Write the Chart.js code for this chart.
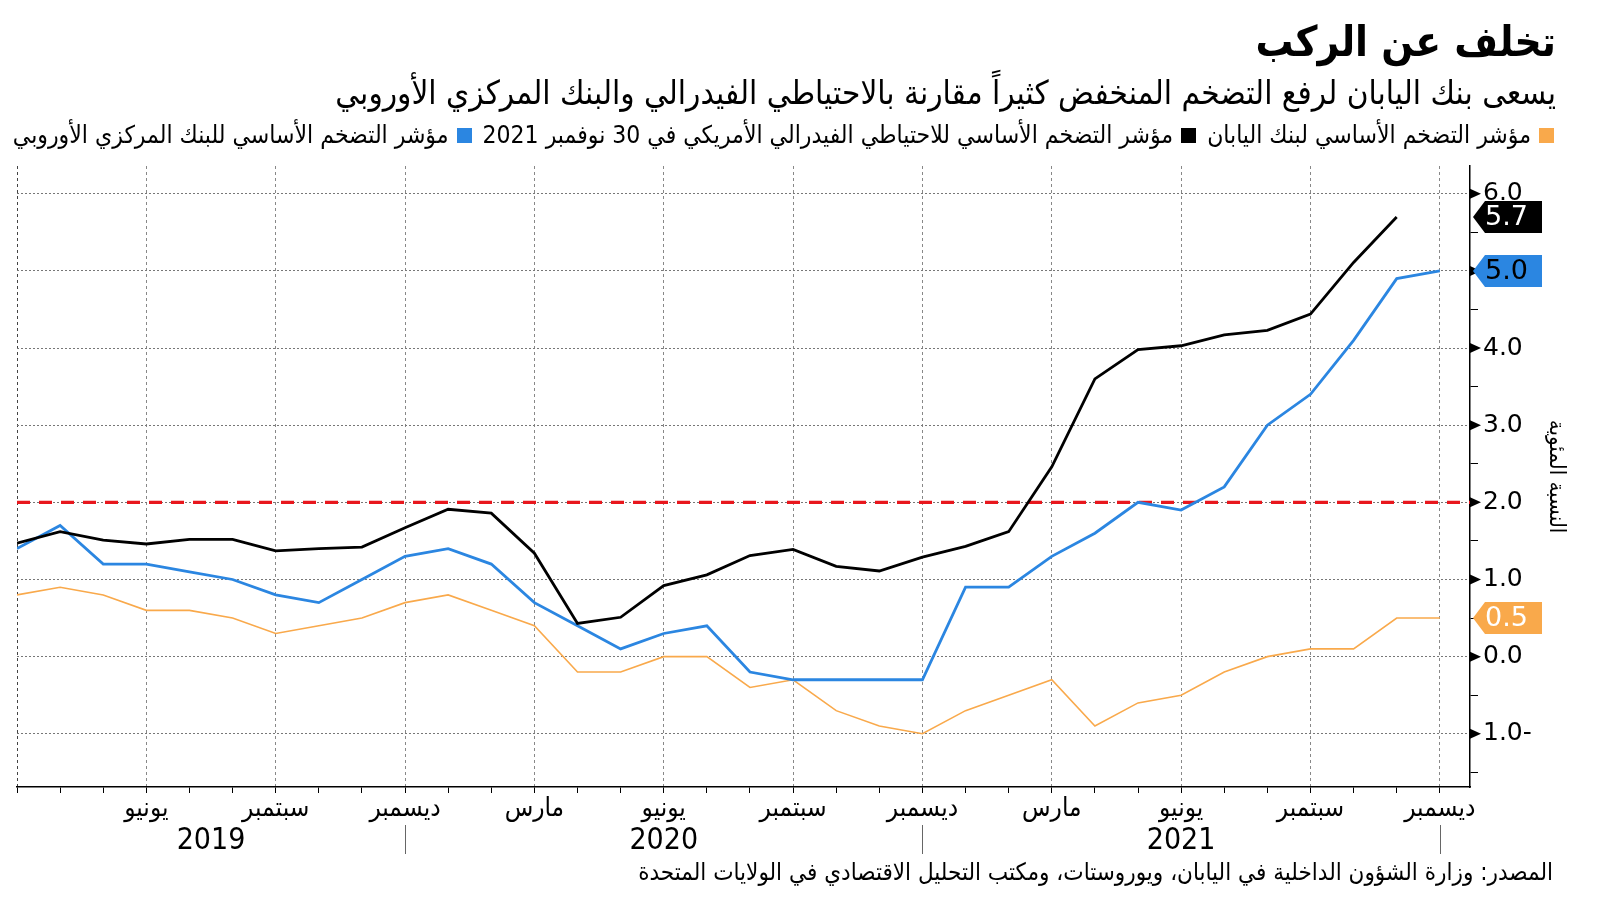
<!DOCTYPE html>
<html lang="ar">
<head>
<meta charset="utf-8">
<script src="https://cdn.jsdelivr.net/npm/chart.js@4.4.1/dist/chart.umd.min.js"></script>
<style>
  html, body { margin:0; padding:0; background:#fff; }
  body { width:1600px; height:901px; position:relative; overflow:hidden; font-family:"DejaVu Sans Condensed","DejaVu Sans",sans-serif; color:#000; }
  #c { position:absolute; left:0; top:0; }
  .txt { position:absolute; direction:rtl; white-space:nowrap; line-height:1; }
  #title { right:44px; top:21px; font-size:42px; font-weight:bold; }
  #subtitle { right:44px; top:76px; font-size:33px; }
  #legend { right:46px; top:123px; font-size:24.5px; display:flex; align-items:center; }
  #legend .sw { display:inline-block; width:15px; height:15px; margin-left:8px; }
  #legend .it { display:flex; align-items:center; margin-left:11px; }
  #source { right:47px; top:860px; font-size:24px; }
</style>
</head>
<body>
<canvas id="c" width="1600" height="901"></canvas>
<div id="title" class="txt">تخلف عن الركب</div>
<div id="subtitle" class="txt">يسعى بنك اليابان لرفع التضخم المنخفض كثيراً مقارنة بالاحتياطي الفيدرالي والبنك المركزي الأوروبي</div>
<div id="legend" class="txt"></div>
<div id="source" class="txt">المصدر: وزارة الشؤون الداخلية في اليابان، ويوروستات، ومكتب التحليل الاقتصادي في الولايات المتحدة</div>
<script>
// ---------------- DATA ----------------
const categories = ['2019-03','2019-04','2019-05','2019-06','2019-07','2019-08','2019-09','2019-10','2019-11','2019-12',
  '2020-01','2020-02','2020-03','2020-04','2020-05','2020-06','2020-07','2020-08','2020-09','2020-10','2020-11','2020-12',
  '2021-01','2021-02','2021-03','2021-04','2021-05','2021-06','2021-07','2021-08','2021-09','2021-10','2021-11','2021-12'];

// Fed core (black) – ends Nov 2021
const fedCore = [1.47,1.62,1.51,1.46,1.52,1.52,1.37,1.40,1.42,1.67,1.91,1.86,1.34,0.43,0.51,0.92,1.06,1.31,1.39,1.17,1.11,1.29,1.43,1.62,2.46,3.60,3.98,4.03,4.17,4.23,4.44,5.11,5.70];
// ECB core (blue)
const ecbCore = [1.4,1.7,1.2,1.2,1.1,1.0,0.8,0.7,1.0,1.3,1.4,1.2,0.7,0.4,0.1,0.3,0.4,-0.2,-0.3,-0.3,-0.3,-0.3,0.9,0.9,1.3,1.6,2.0,1.9,2.2,3.0,3.4,4.1,4.9,5.0];
// BoJ core (orange)
const bojCore = [0.8,0.9,0.8,0.6,0.6,0.5,0.3,0.4,0.5,0.7,0.8,0.6,0.4,-0.2,-0.2,0.0,0.0,-0.4,-0.3,-0.7,-0.9,-1.0,-0.7,-0.5,-0.3,-0.9,-0.6,-0.5,-0.2,0.0,0.1,0.1,0.5,0.5];
const targetRate = 2.0;

const monthTickLabels = {'03':'مارس','06':'يونيو','09':'سبتمبر','12':'ديسمبر'};
const yTickValues = [-1,0,1,2,3,4,5,6];
const seriesNames = [
  'مؤشر التضخم الأساسي لبنك اليابان',
  'مؤشر التضخم الأساسي للاحتياطي الفيدرالي الأمريكي في 30 نوفمبر 2021',
  'مؤشر التضخم الأساسي للبنك المركزي الأوروبي'
];
const yAxisTitle = 'النسبة المئوية';

// ---------------- STYLE ----------------
const COL_BOJ = '#f9a94b', COL_FED = '#000000', COL_ECB = '#2b86e1', COL_RED = '#e8171d';
const FONT = '"DejaVu Sans Condensed","DejaVu Sans",sans-serif';
const XMAX = categories.length - 1 + 0.7;
const YMIN = -1.69, YMAX = 6.36;

// legend (HTML)
const legendEl = document.getElementById('legend');
[[seriesNames[0], COL_BOJ],[seriesNames[1], COL_FED],[seriesNames[2], COL_ECB]].forEach(([t,c]) => {
  const it = document.createElement('span'); it.className = 'it';
  const sw = document.createElement('span'); sw.className = 'sw'; sw.style.background = c;
  const tx = document.createElement('span'); tx.textContent = t;
  it.appendChild(sw); it.appendChild(tx); legendEl.appendChild(it);
});

const toPts = arr => arr.map((v,i) => ({x:i, y:v}));
const yearSeps = categories.map((c,i) => c.endsWith('-12') ? i : -1).filter(i => i >= 0);
const years = yearSeps.map(i => categories[i].slice(0,4));
const yearCenters = yearSeps.map((s,k) => ((k === 0 ? 0 : yearSeps[k-1]) + s) / 2);

const decoPlugin = {
  id: 'deco',
  afterDraw(chart) {
    const {ctx, chartArea, scales} = chart;
    const ys = scales.y, xs = scales.x, xy = scales.xYear;
    ctx.save();
    ctx.fillStyle = '#000';
    yTickValues.forEach(v => {
      const py = ys.getPixelForValue(v);
      ctx.beginPath();
      ctx.moveTo(chartArea.right, py - 5);
      ctx.lineTo(chartArea.right + 11, py);
      ctx.lineTo(chartArea.right, py + 5);
      ctx.closePath(); ctx.fill();
    });
    ctx.strokeStyle = '#666'; ctx.lineWidth = 1;
    yearSeps.forEach(i => {
      const px = Math.round(xs.getPixelForValue(i)) + 0.5;
      ctx.beginPath(); ctx.moveTo(px, xy.top + 2); ctx.lineTo(px, xy.top + 31); ctx.stroke();
    });
    const callouts = [[fedCore, COL_FED, '#fff'], [ecbCore, COL_ECB, '#000'], [bojCore, COL_BOJ, '#fff']];
    callouts.forEach(([arr, bg, fg]) => {
      const v = arr[arr.length - 1];
      const py = ys.getPixelForValue(v);
      const x0 = chartArea.right + 3, x1 = chartArea.right + 72, h = 32, tip = 12;
      ctx.fillStyle = bg;
      ctx.beginPath();
      ctx.moveTo(x0, py);
      ctx.lineTo(x0 + tip, py - h/2);
      ctx.lineTo(x1, py - h/2);
      ctx.lineTo(x1, py + h/2);
      ctx.lineTo(x0 + tip, py + h/2);
      ctx.closePath(); ctx.fill();
      ctx.fillStyle = fg;
      ctx.font = '27px "DejaVu Sans",sans-serif';
      ctx.textAlign = 'left'; ctx.textBaseline = 'middle';
      ctx.fillText(v.toFixed(1), x0 + 12, py + 1);
    });
    ctx.restore();
  }
};

new Chart(document.getElementById('c'), {
  type: 'line',
  data: {
    datasets: [
      { label: 'target', data: [{x:0, y:targetRate}, {x:XMAX, y:targetRate}], borderColor: COL_RED, borderWidth: 3.2, borderDash: [13, 9], pointRadius: 0, order: 4 },
      { label: seriesNames[0], data: toPts(bojCore), borderColor: COL_BOJ, borderWidth: 1.6, pointRadius: 0, tension: 0, order: 3 },
      { label: seriesNames[2], data: toPts(ecbCore), borderColor: COL_ECB, borderWidth: 2.8, pointRadius: 0, tension: 0, order: 2 },
      { label: seriesNames[1], data: toPts(fedCore), borderColor: COL_FED, borderWidth: 2.8, pointRadius: 0, tension: 0, order: 1 }
    ]
  },
  options: {
    responsive: false, animation: false, devicePixelRatio: 1,
    layout: { padding: { top: 166, left: 17, right: 0, bottom: 0 } },
    plugins: { legend: { display: false }, tooltip: { enabled: false } },
    scales: {
      x: {
        type: 'linear', position: 'bottom', weight: 0, min: 0, max: XMAX,
        afterBuildTicks: s => { s.ticks = categories.map((c,i) => ({value:i})); },
        afterFit: s => { s.height = 36; },
        ticks: {
          autoSkip: false, maxRotation: 0, padding: 1, color: '#000',
          font: { family: FONT, size: 26 },
          callback: v => v > 0 ? (monthTickLabels[categories[v].slice(5)] || '') : ''
        },
        grid: {
          color: ctx => { const v = ctx.tick ? ctx.tick.value : -1; return v === 0 ? '#444' : (v % 3 === 0 ? '#888' : 'rgba(0,0,0,0)'); },
          tickColor: '#000', tickLength: 6, lineWidth: 1
        },
        border: { display: true, color: '#000', width: 1.5, dash: [3, 3] }
      },
      xYear: {
        type: 'linear', position: 'bottom', weight: 1, min: 0, max: XMAX,
        afterBuildTicks: s => { s.ticks = yearCenters.map(v => ({value:v})); },
        afterFit: s => { s.height = 78; },
        ticks: {
          autoSkip: false, maxRotation: 0, padding: 0, color: '#000',
          font: { family: FONT, size: 30 },
          callback: (v, i) => years[i]
        },
        grid: { display: false, drawTicks: false },
        border: { display: false }
      },
      y: {
        type: 'linear', position: 'right', min: YMIN, max: YMAX,
        afterBuildTicks: s => { const t = []; for (let v = -1.5; v <= 6; v += 0.5) t.push({value: v}); s.ticks = t; },
        afterFit: s => { s.width = 130; },
        ticks: {
          autoSkip: false, padding: 5, color: '#000',
          font: { family: '"DejaVu Sans",sans-serif', size: 25 },
          callback: v => Number.isInteger(v) ? (v < 0 ? Math.abs(v).toFixed(1) + '-' : v.toFixed(1)) : ''
        },
        grid: {
          color: ctx => (ctx.tick && Number.isInteger(ctx.tick.value)) ? '#777' : 'rgba(0,0,0,0)',
          tickColor: ctx => (ctx.tick && !Number.isInteger(ctx.tick.value)) ? '#000' : 'rgba(0,0,0,0)',
          tickLength: 8, lineWidth: 1
        },
        border: { display: true, color: '#000', width: 1.5, dash: [2, 2] },
        title: { display: true, text: yAxisTitle, color: '#000', font: { family: FONT, size: 22 }, padding: { top: 31, bottom: 0 } }
      }
    }
  },
  plugins: [decoPlugin]
});
</script>
</body>
</html>
